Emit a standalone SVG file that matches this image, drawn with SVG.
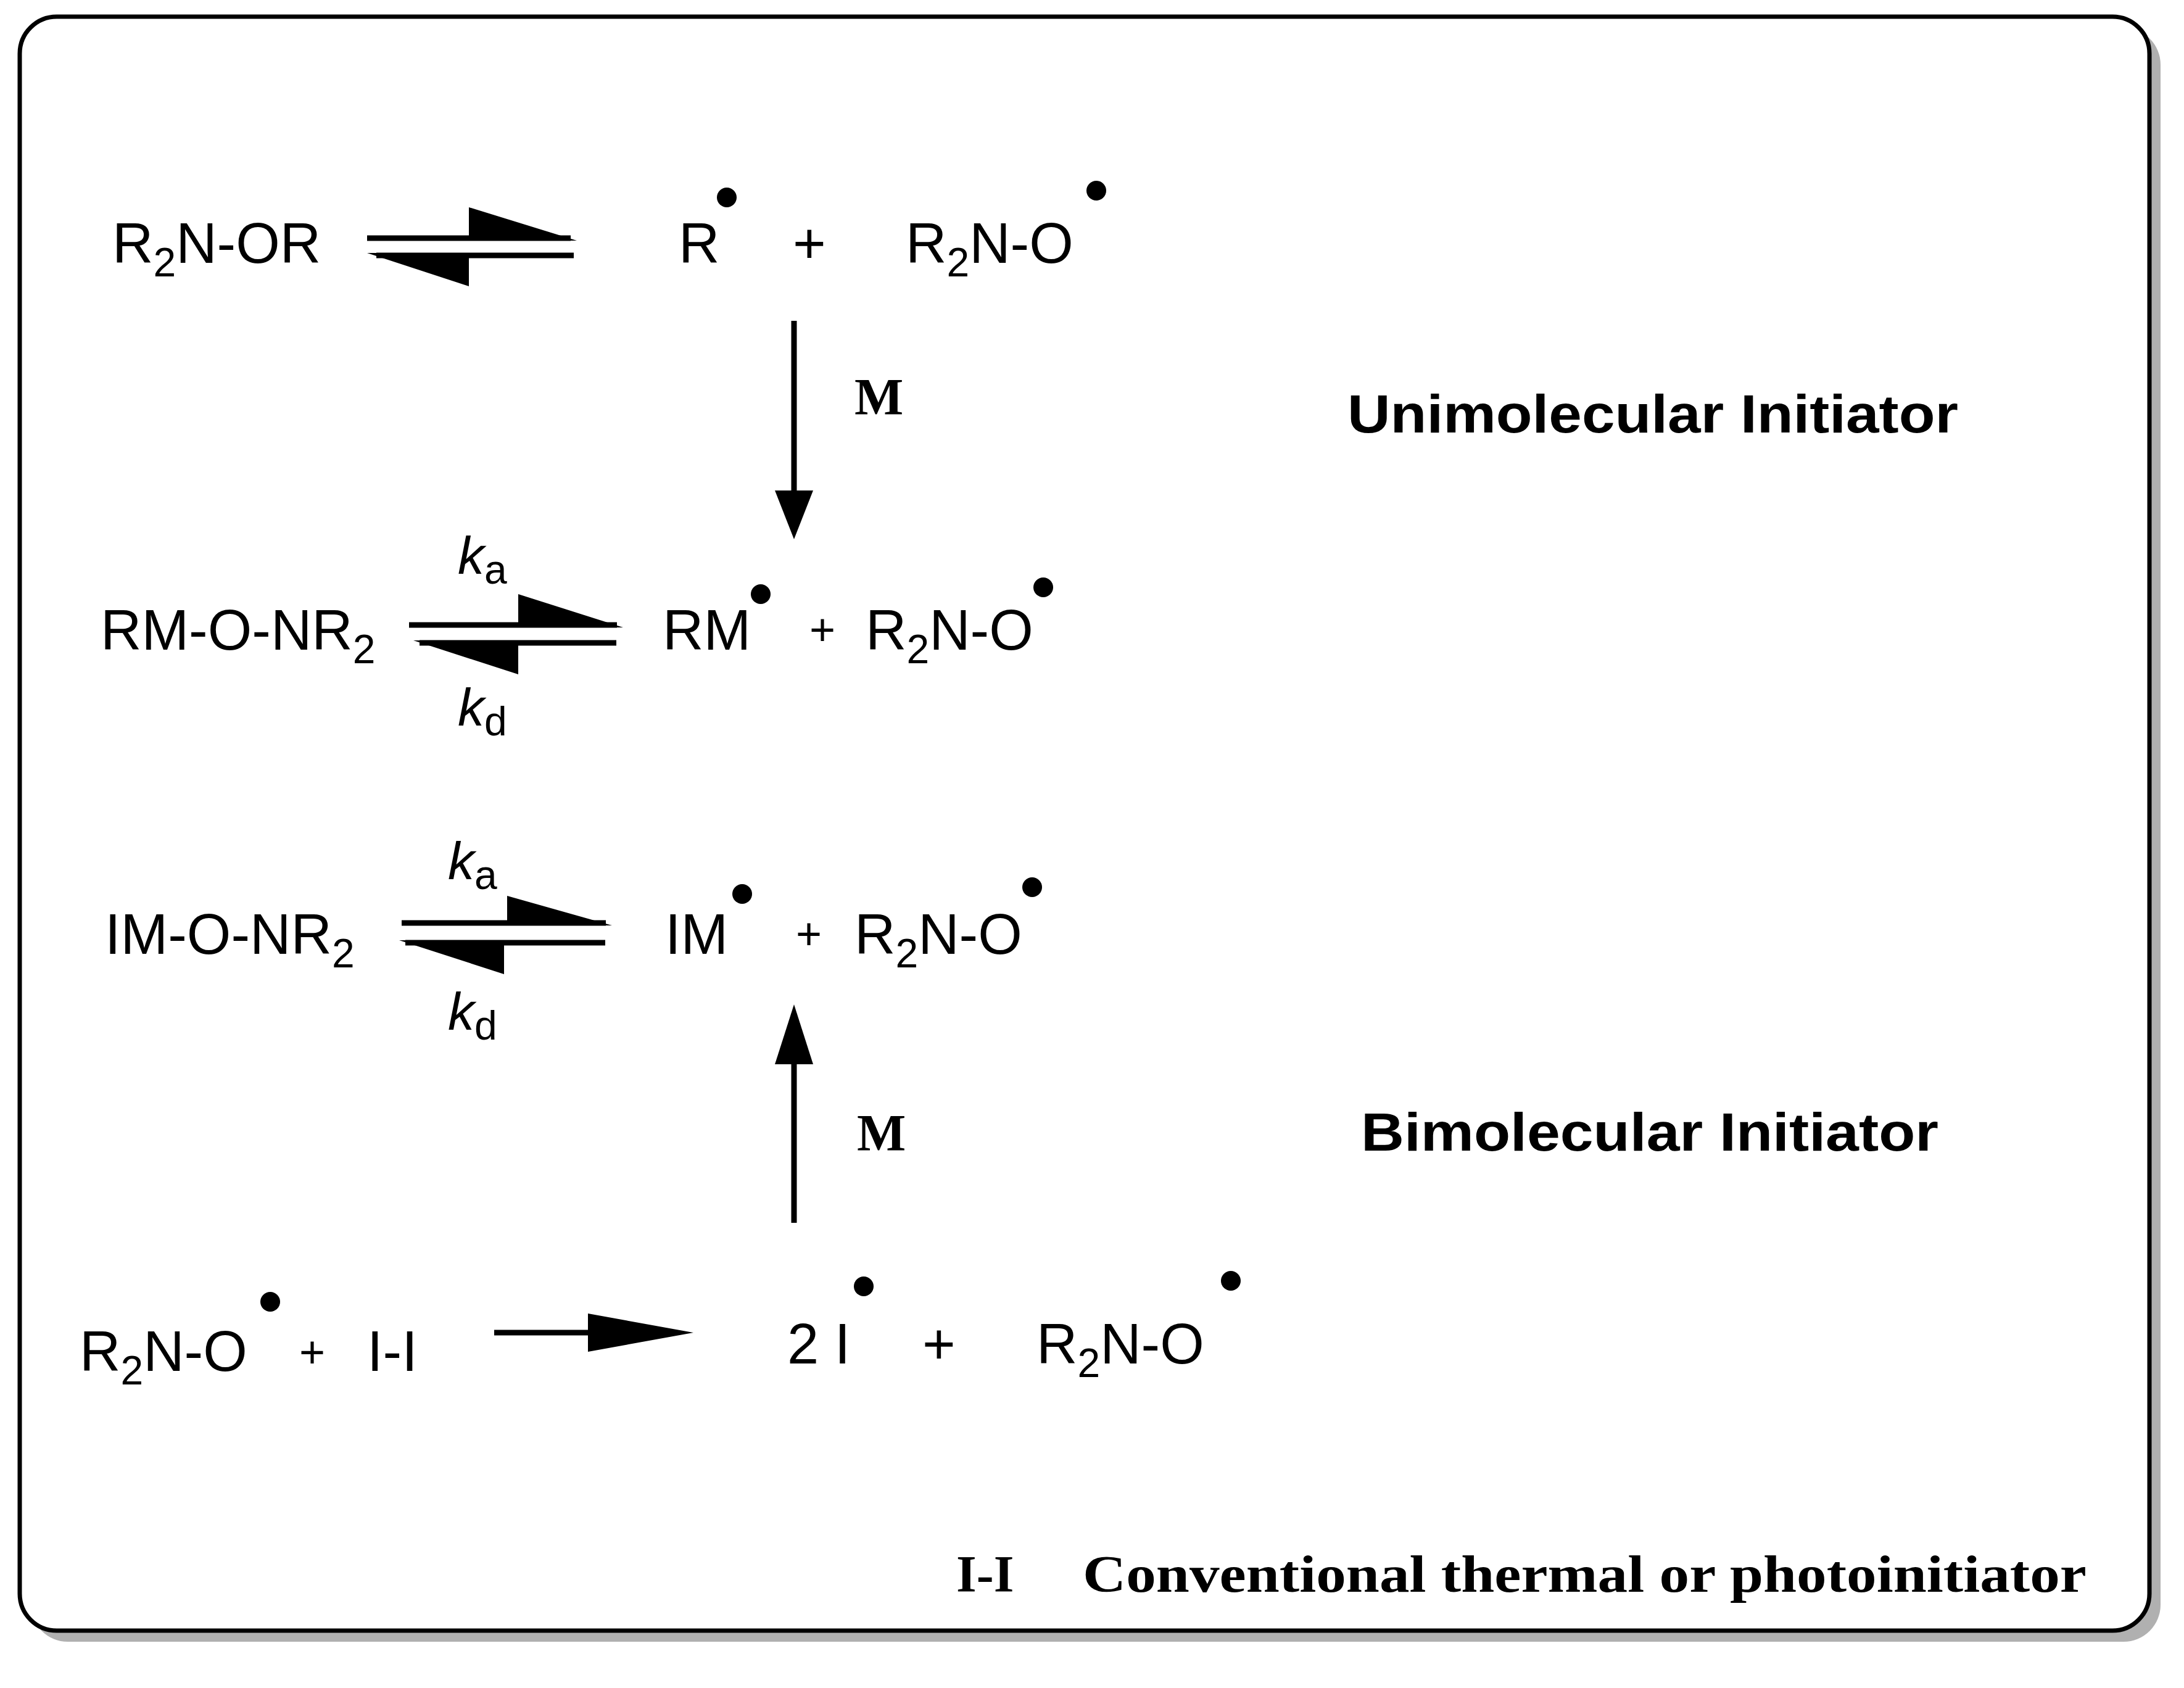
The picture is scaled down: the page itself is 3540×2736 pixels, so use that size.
<svg xmlns="http://www.w3.org/2000/svg" width="3540" height="2736" viewBox="0 0 3540 2736">
<style>
.t{font-family:"Liberation Sans",Arial,sans-serif;font-size:92px;fill:#000}
.p{font-family:"Liberation Sans",Arial,sans-serif;font-size:72px;fill:#000}
.k{font-family:"Liberation Sans",Arial,sans-serif;font-size:86px;font-style:italic;fill:#000}
.h{font-family:"Liberation Sans",Arial,sans-serif;font-size:88px;font-weight:bold;fill:#000}
.m{font-family:"Liberation Serif","Times New Roman",serif;font-size:84px;font-weight:bold;fill:#000}
.l{stroke:#000;stroke-width:9;fill:none}
.sub{font-size:66px}
</style>
<rect width="3540" height="2736" fill="#fff"/>
<rect x="50" y="45" width="3452" height="2616" rx="60" fill="#b0b0b0"/>
<rect x="32" y="27" width="3452" height="2616" rx="60" fill="#fff" stroke="#000" stroke-width="7"/>
<g id="connectors">
<line class="l" x1="595" y1="386" x2="925" y2="386"/><polygon points="760,336 935,390 760,390"/>
<line class="l" x1="610" y1="414" x2="930" y2="414"/><polygon points="760,464 595,410 760,410"/>
<line class="l" x1="663" y1="1013" x2="1000" y2="1013"/><polygon points="840,963 1010,1017 840,1017"/>
<line class="l" x1="680" y1="1042" x2="999" y2="1042"/><polygon points="840,1093 670,1038 840,1038"/>
<line class="l" x1="651" y1="1496" x2="982" y2="1496"/><polygon points="822,1452 992,1500 822,1500"/>
<line class="l" x1="657" y1="1528" x2="981" y2="1528"/><polygon points="817,1579 647,1524 817,1524"/>
<line class="l" x1="1287" y1="520" x2="1287" y2="800"/><polygon points="1256,795 1318,795 1287,874"/>
<line class="l" x1="1287" y1="1982" x2="1287" y2="1720"/><polygon points="1256,1725 1318,1725 1287,1628"/>
<line class="l" x1="801" y1="2160" x2="960" y2="2160"/><polygon points="953,2129 1124,2160 953,2191"/>
</g>
<g id="row1">
<text class="t" x="182" y="426">R<tspan class="sub" dy="22">2</tspan><tspan dy="-22">N-OR</tspan></text>
<text class="t" x="1100" y="426">R</text><circle cx="1178" cy="320" r="16"/>
<text class="t" x="1285" y="426">+</text>
<text class="t" x="1468" y="426">R<tspan class="sub" dy="22">2</tspan><tspan dy="-22">N-O</tspan></text><circle cx="1777" cy="309" r="16"/>
<text class="m" x="1385" y="672">M</text>
<text class="h" x="2184" y="701" textLength="990" lengthAdjust="spacingAndGlyphs">Unimolecular Initiator</text>
</g>
<g id="row2">
<text class="t" x="163" y="1053">RM-O-NR<tspan class="sub" dy="22">2</tspan></text>
<text class="k" x="742" y="930">k<tspan class="sub" font-style="normal" dy="16">a</tspan></text>
<text class="k" x="742" y="1176">k<tspan class="sub" font-style="normal" dy="16">d</tspan></text>
<text class="t" x="1074" y="1053">RM</text><circle cx="1233" cy="963" r="16"/>
<text class="p" x="1312" y="1045">+</text>
<text class="t" x="1403" y="1053">R<tspan class="sub" dy="22">2</tspan><tspan dy="-22">N-O</tspan></text><circle cx="1691" cy="952" r="16"/>
</g>
<g id="row3">
<text class="t" x="170" y="1546">IM-O-NR<tspan class="sub" dy="22">2</tspan></text>
<text class="k" x="726" y="1425">k<tspan class="sub" font-style="normal" dy="16">a</tspan></text>
<text class="k" x="726" y="1669">k<tspan class="sub" font-style="normal" dy="16">d</tspan></text>
<text class="t" x="1078" y="1546">IM</text><circle cx="1203" cy="1449" r="16"/>
<text class="p" x="1290" y="1538">+</text>
<text class="t" x="1385" y="1546">R<tspan class="sub" dy="22">2</tspan><tspan dy="-22">N-O</tspan></text><circle cx="1673" cy="1438" r="16"/>
<text class="m" x="1389" y="1865">M</text>
<text class="h" x="2206" y="1865" textLength="936" lengthAdjust="spacingAndGlyphs">Bimolecular Initiator</text>
</g>
<g id="row4">
<text class="t" x="129" y="2222">R<tspan class="sub" dy="22">2</tspan><tspan dy="-22">N-O</tspan></text><circle cx="438" cy="2110" r="16"/>
<text class="p" x="485" y="2216">+</text>
<text class="t" x="595" y="2222">I-I</text>
<text class="t" x="1276" y="2210">2 I</text><circle cx="1400" cy="2085" r="16"/>
<text class="t" x="1495" y="2210">+</text>
<text class="t" x="1680" y="2210">R<tspan class="sub" dy="22">2</tspan><tspan dy="-22">N-O</tspan></text><circle cx="1995" cy="2076" r="16"/>
</g>
<g id="footer">
<text class="m" x="1550" y="2580">I-I</text>
<text class="m" x="1755" y="2580" textLength="1627" lengthAdjust="spacingAndGlyphs">Conventional thermal or photoinitiator</text>
</g>
</svg>
